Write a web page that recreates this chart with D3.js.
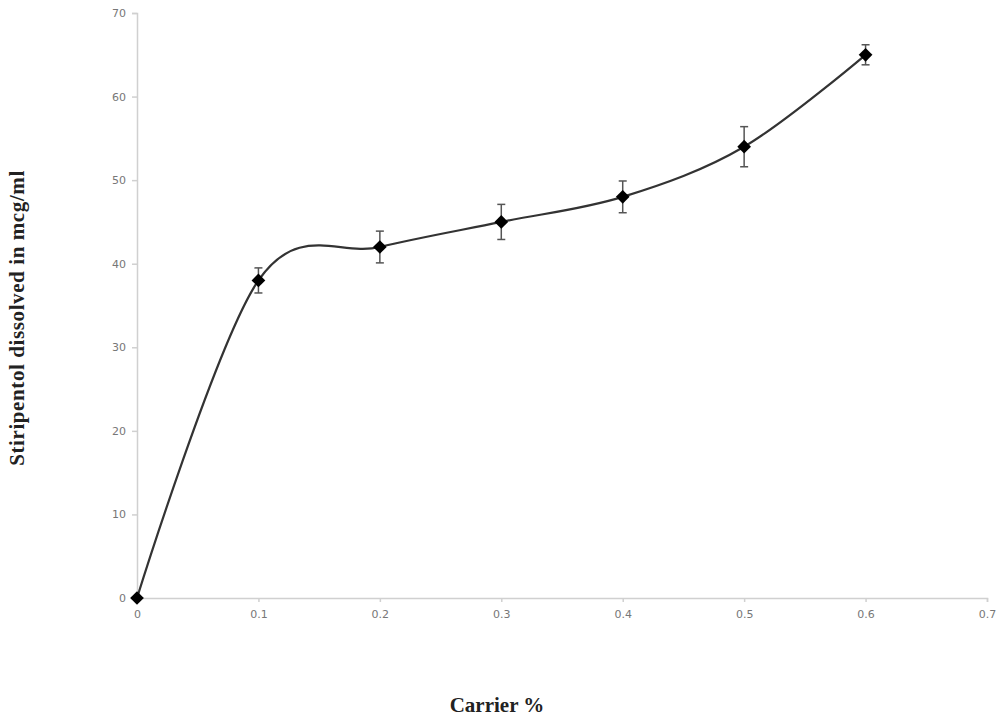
<!DOCTYPE html>
<html><head><meta charset="utf-8">
<script src="https://cdn.jsdelivr.net/npm/d3@7"></script>
<style>body{margin:0;background:#fff}svg{display:block}</style>
</head><body>
<svg id="c" width="1000" height="723"></svg>
<script>
const xValues = [0, 0.1, 0.2, 0.3, 0.4, 0.5, 0.6];
const yValues = [0, 38, 42, 45, 48, 54, 65];
const yErrors = [0, 1.5, 1.9, 2.1, 1.9, 2.4, 1.2];
const xTicks = [0, 0.1, 0.2, 0.3, 0.4, 0.5, 0.6, 0.7];
const yTicks = [0, 10, 20, 30, 40, 50, 60, 70];

const svg = d3.select("#c");
const x = d3.scaleLinear().domain([0, 0.7]).range([137, 987]);
const y = d3.scaleLinear().domain([0, 70]).range([598, 13]);

// axes
const gx = svg.append("g").attr("transform", `translate(0,${y(0)})`)
  .call(d3.axisBottom(x).tickValues(xTicks).tickFormat(d => d3.format("")(+d.toFixed(1))).tickSize(4).tickPadding(8));
const gy = svg.append("g").attr("transform", `translate(${x(0)},0)`)
  .call(d3.axisLeft(y).tickValues(yTicks).tickSize(5).tickPadding(6));
[gx, gy].forEach(g => {
  g.select(".domain").attr("stroke", "#d0d0d0").attr("stroke-width", 1.5);
  g.selectAll(".tick line").attr("stroke", "#d0d0d0").attr("stroke-width", 1.5);
  g.selectAll(".tick text").attr("fill", "#777").attr("font-family", "DejaVu Sans, sans-serif").attr("font-size", 11);
});

// line
const pts = xValues.map((d, i) => [d, yValues[i]]);
svg.append("path")
  .attr("d", d3.line().x(d => x(d[0])).y(d => y(d[1])).curve(d3.curveCardinal.tension(0))(pts))
  .attr("fill", "none").attr("stroke", "#333").attr("stroke-width", 2.2);

// error bars
const eb = svg.append("g").attr("stroke", "#555").attr("stroke-width", 1.5);
pts.forEach((d, i) => {
  if (yErrors[i] <= 0) return;
  const cx = x(d[0]);
  eb.append("line").attr("x1", cx).attr("x2", cx).attr("y1", y(d[1] - yErrors[i])).attr("y2", y(d[1] + yErrors[i]));
  [d[1] - yErrors[i], d[1] + yErrors[i]].forEach(v => {
    eb.append("line").attr("x1", cx - 4).attr("x2", cx + 4).attr("y1", y(v)).attr("y2", y(v));
  });
});

// markers
svg.append("g").selectAll("path").data(pts).join("path")
  .attr("transform", d => `translate(${x(d[0])},${y(d[1])})`)
  .attr("d", d3.symbol(d3.symbolDiamond2, 120))
  .attr("fill", "#000");

// titles
svg.append("text").attr("x", 497).attr("y", 712).attr("text-anchor", "middle")
  .attr("font-family", "Liberation Serif, Times New Roman, serif").attr("font-weight", "bold")
  .attr("font-size", 21).attr("fill", "#222").text("Carrier %");
svg.append("text").attr("transform", "translate(24,318) rotate(-90)").attr("text-anchor", "middle")
  .attr("font-family", "Liberation Serif, Times New Roman, serif").attr("font-weight", "bold")
  .attr("font-size", 21).attr("letter-spacing", 0.6).attr("fill", "#222").text("Stiripentol dissolved in mcg/ml");
</script>
</body></html>
